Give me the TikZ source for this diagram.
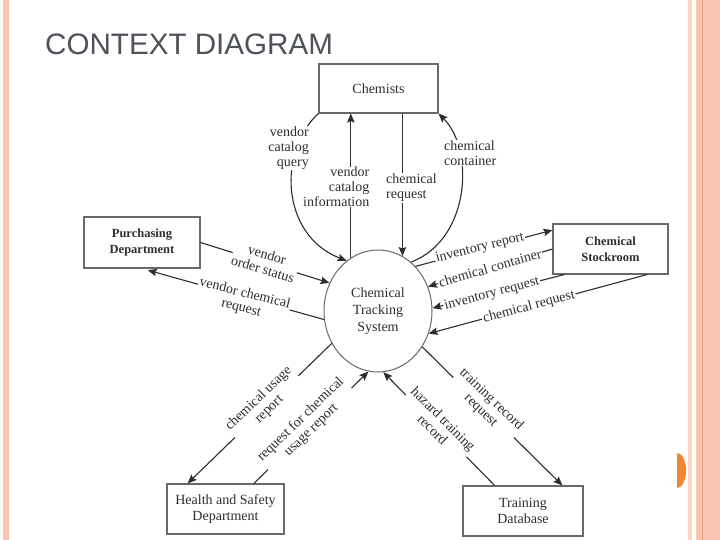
\documentclass[tikz,border=0pt]{standalone}
\usepackage{fontspec}
\setmainfont{Liberation Serif}
\newfontfamily\titlefont{Liberation Sans}
\usetikzlibrary{arrows.meta,shapes.geometric}
\definecolor{titlegray}{RGB}{78,83,90}
\definecolor{stripeA}{RGB}{249,198,180}
\definecolor{stripeB}{RGB}{251,214,200}
\definecolor{stripeC}{RGB}{240,160,125}
\definecolor{dotorange}{RGB}{242,133,52}
\definecolor{ink}{RGB}{45,45,45}
\definecolor{boxline}{RGB}{105,105,105}
\tikzset{
  box/.style={draw=boxline, line width=1.1pt, rectangle, inner sep=0pt, align=center, text=ink, font=\fontsize{14}{16}\selectfont},
  boldbox/.style={box, font=\bfseries\fontsize{12.5}{16}\selectfont},
  lbl/.style={fill=white, inner sep=1pt, align=center, text=ink, font=\fontsize{14}{15}\selectfont},
  arr/.style={draw=ink, line width=1.1pt, -{Stealth[length=9pt,width=7.5pt,inset=1.5pt]}},
}
\begin{document}
\begin{tikzpicture}[x=1pt,y=-1pt]
\useasboundingbox (0,0) rectangle (720,540);
\fill[white] (0,0) rectangle (720,540);
% page decorations
\fill[stripeA] (3,0) rectangle (8.5,540);
\fill[stripeB] (688,0) rectangle (692,540);
\fill[stripeA] (696,0) rectangle (720,540);
\fill[stripeC] (701.5,0) rectangle (703,540);
\fill[dotorange] (677,453) arc[start angle=-90, end angle=90, x radius=9, y radius=17.5] -- cycle;
% title
\node[anchor=base west, inner sep=0pt, text=titlegray, font=\titlefont\fontsize{29.6}{30}\selectfont] (title) at (45,55) {CONTEXT DIAGRAM};
% entities
\node[box, minimum width=119pt, minimum height=49pt] (chem) at (378.5,88.5) {Chemists};
\node[boldbox, minimum width=116pt, minimum height=51pt] (purch) at (142,242.5) {Purchasing\\Department};
\node[boldbox, minimum width=115pt, minimum height=50pt] (stock) at (610.5,249) {Chemical\\Stockroom};
\node[box, minimum width=117pt, minimum height=50pt] (health) at (225.5,509) {Health and Safety\\Department};
\node[box, minimum width=120pt, minimum height=50pt] (train) at (523,511) {Training\\Database};
\node[ellipse, draw=boxline, line width=1pt, minimum width=108pt, minimum height=122pt, inner sep=0pt, align=center, text=ink, font=\fontsize{14}{17}\selectfont] (cts) at (378,311) {Chemical\\Tracking\\System};
% Chemists flows
\draw[arr] (chem.south west) .. controls (278,150) and (280,235) .. (cts.122);
\draw[arr] (cts.117) -- (cts.117 |- chem.south);
\node[lbl, align=right, anchor=east, inner sep=0.5pt] (l2) at (370,187) {vendor\\catalog\\information};
\node[lbl, align=right, anchor=east] (l1) at (310,148) {vendor\\catalog\\query};
\draw[arr] (chem.south -| cts.66) -- (cts.66);
\node[lbl, align=left, anchor=west] (l3) at (385,188) {chemical\\request};
\draw[arr] (cts.56) .. controls (470,240) and (475,150) .. (chem.south east);
\node[lbl, align=left, anchor=west] (l4) at (443,153) {chemical\\container};
% Purchasing flows
\draw[arr] (purch.east) -- (cts.150);
\node[lbl, rotate=-17] (l5) at (265,262) {vendor\\order status};
\draw[arr, shorten >=6pt] (cts.189) -- (purch.south);
\node[lbl, rotate=-14] (l6) at (243,301) {vendor chemical\\request};
% Stockroom flows
\draw[arr] (cts.50) -- (stock.162);
\node[lbl, rotate=14] (l7) at (480,248) {inventory report};
\draw[arr] (stock.west) -- (cts.26);
\node[lbl, rotate=16] (l8) at (490,268) {chemical container};
\draw[arr] (stock.209) -- (cts.3);
\node[lbl, rotate=15] (l9) at (492,294) {inventory request};
\draw[arr] (stock.325) -- (cts.336);
\node[lbl, rotate=15] (l10) at (529,307) {chemical request};
% Health and Safety flows
\draw[arr] (cts.215) -- (health.146);
\node[lbl, rotate=44] (l11) at (264,404) {chemical usage\\report};
\draw[arr] (health.42) -- (cts.261);
\node[lbl, rotate=44] (l12) at (306,425) {request for chemical\\usage report};
% Training flows
\draw[arr] (train.138) -- (cts.275);
\node[lbl, rotate=-45] (l13) at (438,424) {hazard training\\record};
\draw[arr] (cts.321) -- (train.33);
\node[lbl, rotate=-44] (l14) at (486,405) {training record\\request};
\end{tikzpicture}
\end{document}
